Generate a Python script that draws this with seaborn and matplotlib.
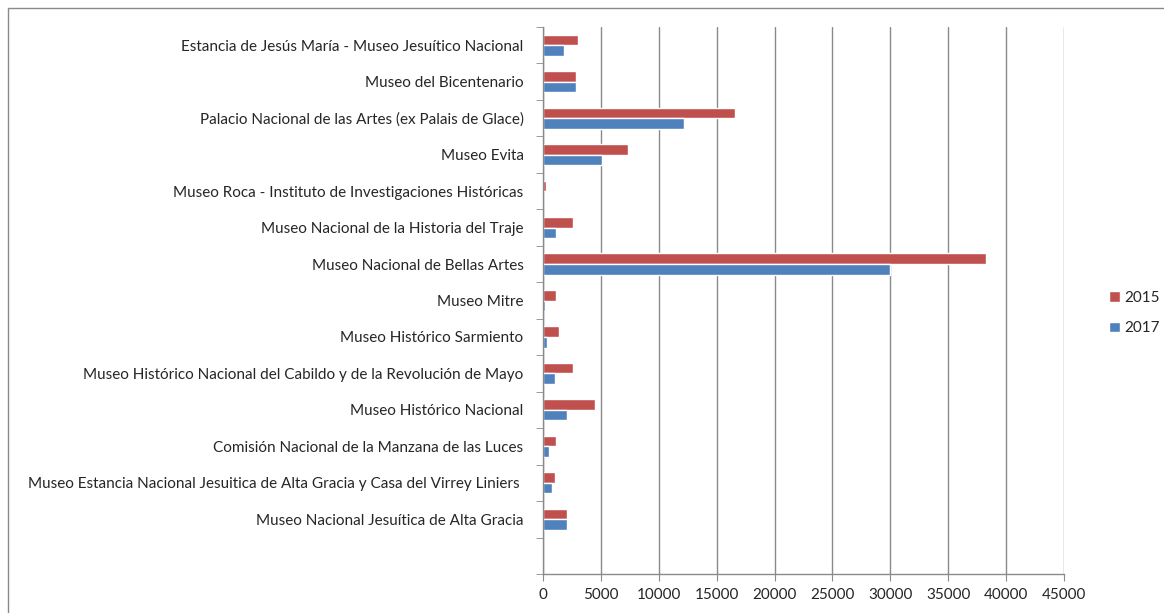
import numpy as np
import pandas as pd
import matplotlib
matplotlib.use("Agg")
import matplotlib.pyplot as plt
from matplotlib.patches import Rectangle
import seaborn as sns

museos = [
    "Estancia de Jesús María - Museo Jesuítico Nacional",
    "Museo del Bicentenario",
    "Palacio Nacional de las Artes (ex Palais de Glace)",
    "Museo Evita",
    "Museo Roca - Instituto de Investigaciones Históricas",
    "Museo Nacional de la Historia del Traje",
    "Museo Nacional de Bellas Artes",
    "Museo Mitre",
    "Museo Histórico Sarmiento",
    "Museo Histórico Nacional del Cabildo y de la Revolución de Mayo",
    "Museo Histórico Nacional",
    "Comisión Nacional de la Manzana de las Luces",
    "Museo Estancia Nacional Jesuitica de Alta Gracia y Casa del Virrey Liniers ",
    "Museo Nacional Jesuítica de Alta Gracia",
    "",
]
v2015 = [3060, 2830, 16580, 7380, 290, 2600, 38300, 1150, 1380, 2600, 4500, 1150, 1040, 2050, np.nan]
v2017 = [1820, 2830, 12140, 5130, 30, 1150, 30000, 170, 380, 1040, 2050, 490, 810, 2080, np.nan]
anios = ["2015", "2017"]
colores = ["#C0504D", "#4F81BD"]

df = pd.DataFrame({
    "museo": museos * 2,
    "valor": v2015 + v2017,
    "anio": [anios[0]] * len(museos) + [anios[1]] * len(museos),
})

sns.set_style("white")
plt.rcParams['font.family'] = ['Lato', 'DejaVu Sans']

fig = plt.figure(figsize=(11.64, 6.13), dpi=100)
ax = fig.add_axes([543 / 1164, 1 - 574 / 613, (1064 - 543) / 1164, (574 - 27) / 613])

sns.barplot(data=df, y="museo", x="valor", hue="anio", hue_order=anios,
            palette=colores, orient="h", width=0.58, ax=ax, saturation=1,
            order=museos)

ax.set_xlim(0, 45000)
ax.set_xticks(range(0, 45001, 5000))
ax.set_xlabel("")
ax.set_ylabel("")
ax.xaxis.grid(True, color="#8a8a8a", linewidth=1)
ax.set_axisbelow(True)
for s in ["top", "right"]:
    ax.spines[s].set_visible(False)
for s in ["left", "bottom"]:
    ax.spines[s].set_color("#8a8a8a")
    ax.spines[s].set_linewidth(1)

ax.tick_params(axis="y", length=0, pad=14, labelsize=11)
ax.set_yticks(np.arange(-0.5, len(museos), 1), minor=True)
ax.tick_params(axis="y", which="minor", length=5, color="#8a8a8a", left=True)
ax.tick_params(axis="x", length=5, color="#8a8a8a", direction="out", bottom=True,
               labelsize=11, pad=5)

leg = ax.legend(loc="center left", bbox_to_anchor=(1.06, 0.477), frameon=False,
                fontsize=11, handlelength=0.7, handleheight=0.7,
                labelspacing=1.1, handletextpad=0.3)

fig.patches.append(Rectangle((8 / 1164, -0.01), 1.0, 1 - 8 / 613 + 0.01,
                             transform=fig.transFigure, fill=False,
                             edgecolor="#8a8a8a", linewidth=1))

fig.savefig("out.png", dpi=100)
